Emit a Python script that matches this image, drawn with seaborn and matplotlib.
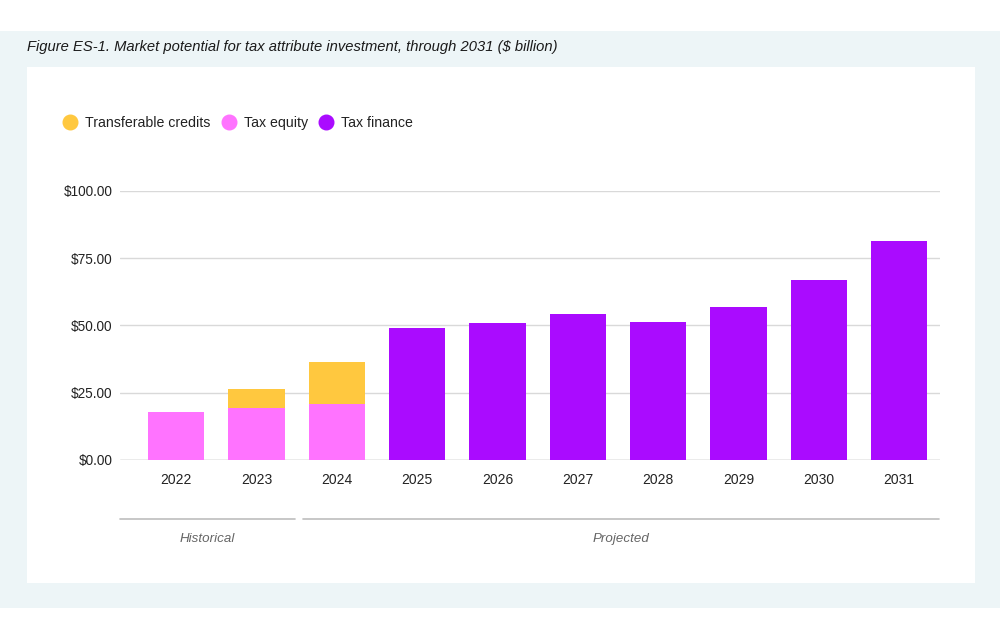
import matplotlib
matplotlib.use("Agg")
import matplotlib.pyplot as plt
from matplotlib.patches import Rectangle
from matplotlib.lines import Line2D
import seaborn as sns
import pandas as pd

years = ["2022", "2023", "2024", "2025", "2026", "2027", "2028", "2029", "2030", "2031"]
tax_equity = [17.8, 19.4, 20.9, 0, 0, 0, 0, 0, 0, 0]
transferable_credits = [0, 7.0, 15.4, 0, 0, 0, 0, 0, 0, 0]
tax_finance = [0, 0, 0, 49.1, 50.7, 54.3, 51.4, 56.7, 66.7, 81.3]
y_ticks = [0, 25, 50, 75, 100]
series_names = ["Transferable credits", "Tax equity", "Tax finance"]
colors = {"Transferable credits": "#FFC83F", "Tax equity": "#FF73FF", "Tax finance": "#AA0BFF"}

df = pd.DataFrame({"year": years, "te": tax_equity, "tc": transferable_credits, "tf": tax_finance})

sns.set_theme(style="white")
plt.rcParams["font.family"] = ["Liberation Sans", "DejaVu Sans"]

fig = plt.figure(figsize=(10, 6.4), dpi=100)
fig.patch.set_facecolor("white")
H = 640.0
fig.add_artist(Rectangle((0, 1 - 608 / H), 1, (608 - 31) / H, transform=fig.transFigure,
                         facecolor="#EDF5F7", edgecolor="none", zorder=-2))
fig.add_artist(Rectangle((27 / 1000, 1 - 583 / H), (975 - 27) / 1000, (583 - 67) / H,
                         transform=fig.transFigure, facecolor="white", edgecolor="none", zorder=-1))

ax = fig.add_axes([0.12, 1 - 460 / H, 0.82, (460 - 190.7) / H])
ax.set_facecolor("none")

sns.barplot(data=df, x="year", y="te", color=colors["Tax equity"], width=0.7,
            linewidth=0, saturation=1, ax=ax, zorder=3)
sns.barplot(data=df, x="year", y="tc", color=colors["Transferable credits"], width=0.7,
            linewidth=0, saturation=1, ax=ax, zorder=3, bottom=df["te"].values)
sns.barplot(data=df, x="year", y="tf", color=colors["Tax finance"], width=0.7,
            linewidth=0, saturation=1, ax=ax, zorder=3)

ax.set_xlim(-0.7, 9.51)
ax.set_ylim(0, 100)
ax.set_yticks(y_ticks)
ax.set_yticklabels([f"${v:.2f}" for v in y_ticks])
ax.set_xlabel("")
ax.set_ylabel("")
for s in ax.spines.values():
    s.set_visible(False)
ax.yaxis.grid(True, color="#D9D9D9", linewidth=1.0)
ax.set_axisbelow(True)
ax.axhline(0, color="#BBBBBB", linewidth=1.0, zorder=2)
ax.tick_params(axis="y", length=0, pad=5.5, labelsize=9.8, labelcolor="#222222")
ax.tick_params(axis="x", length=0, pad=9.2, labelsize=10, labelcolor="#222222")

fig.text(27 / 1000, 1 - 47 / H, "Figure ES-1. Market potential for tax attribute investment, through 2031 ($ billion)",
         fontsize=10.6, style="italic", color="#1A1A1A", va="center", ha="left")

handles = [Line2D([], [], marker="o", linestyle="none", markersize=10.5,
                  markerfacecolor=colors[n], markeredgecolor=colors[n]) for n in series_names]
fig.legend(handles, series_names, loc="center left", bbox_to_anchor=(0.0572, 1 - 123 / H),
           ncol=3, frameon=False, fontsize=10.2, handlelength=1.0, handletextpad=0.56,
           columnspacing=0.8, borderaxespad=0, labelcolor="#222222")

fig.add_artist(Line2D([120 / 1000, 295 / 1000], [1 - 519 / H] * 2, transform=fig.transFigure,
                      color="#BDBDBD", linewidth=1.2))
fig.add_artist(Line2D([303 / 1000, 939 / 1000], [1 - 519 / H] * 2, transform=fig.transFigure,
                      color="#BDBDBD", linewidth=1.2))
fig.text(207 / 1000, 1 - 539 / H, "Historical", fontsize=9.6, style="italic", color="#666666",
         ha="center", va="center")
fig.text(621 / 1000, 1 - 539 / H, "Projected", fontsize=9.6, style="italic", color="#666666",
         ha="center", va="center")

fig.savefig("out.png", dpi=100)
